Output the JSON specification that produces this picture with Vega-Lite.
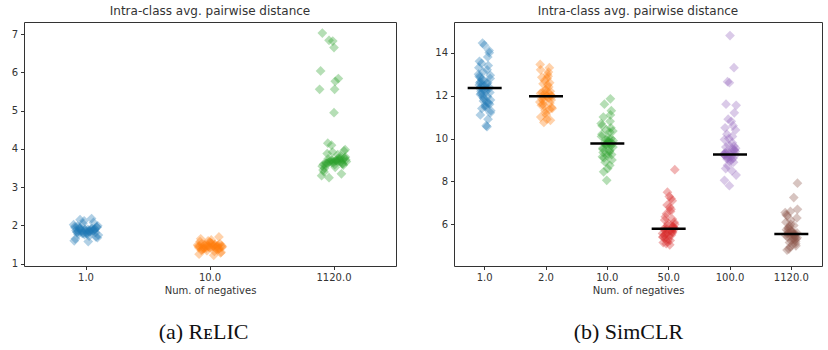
{
"$schema": "https://vega.github.io/schema/vega-lite/v6.json",
"padding": {"left": 10, "top": 4, "right": 2, "bottom": 0},
"background": "white",
"datasets": {
"relic": [
{"n":"1.0","d":1.87,"j":-0.08},{"n":"1.0","d":1.92,"j":0.05},{"n":"1.0","d":1.80,"j":-0.02},{"n":"1.0","d":1.95,"j":0.09},{"n":"1.0","d":1.85,"j":-0.06},
{"n":"1.0","d":1.78,"j":0.01},{"n":"1.0","d":1.90,"j":0.07},{"n":"1.0","d":2.02,"j":-0.1},{"n":"1.0","d":1.83,"j":0.03},{"n":"1.0","d":1.88,"j":-0.04},
{"n":"1.0","d":1.75,"j":0.1},{"n":"1.0","d":1.97,"j":-0.09},{"n":"1.0","d":1.86,"j":0.02},{"n":"1.0","d":1.93,"j":-0.05},{"n":"1.0","d":1.70,"j":0.08},
{"n":"1.0","d":1.89,"j":-0.01},{"n":"1.0","d":2.08,"j":0.06},{"n":"1.0","d":1.82,"j":-0.07},{"n":"1.0","d":1.91,"j":0.04},{"n":"1.0","d":1.79,"j":-0.03},
{"n":"1.0","d":1.84,"j":0.0},{"n":"1.0","d":1.99,"j":0.095},{"n":"1.0","d":1.65,"j":-0.085},{"n":"1.0","d":1.88,"j":0.035},{"n":"1.0","d":1.94,"j":-0.045},
{"n":"1.0","d":1.81,"j":0.075},{"n":"1.0","d":2.12,"j":-0.015},{"n":"1.0","d":1.86,"j":0.055},{"n":"1.0","d":1.77,"j":-0.065},{"n":"1.0","d":1.90,"j":0.015},
{"n":"1.0","d":1.60,"j":-0.095},{"n":"1.0","d":1.96,"j":0.085},{"n":"1.0","d":1.85,"j":-0.035},{"n":"1.0","d":2.18,"j":0.045},{"n":"1.0","d":1.83,"j":-0.075},
{"n":"1.0","d":1.72,"j":0.025},{"n":"1.0","d":1.92,"j":-0.055},{"n":"1.0","d":1.87,"j":0.065},{"n":"1.0","d":2.05,"j":-0.025},{"n":"1.0","d":1.79,"j":0.005},
{"n":"1.0","d":1.89,"j":-0.005},{"n":"1.0","d":1.68,"j":0.092},{"n":"1.0","d":1.94,"j":-0.088},{"n":"1.0","d":1.84,"j":0.038},{"n":"1.0","d":2.15,"j":-0.048},
{"n":"1.0","d":1.91,"j":0.072},{"n":"1.0","d":1.76,"j":-0.012},{"n":"1.0","d":1.86,"j":0.058},{"n":"1.0","d":1.98,"j":-0.068},{"n":"1.0","d":1.58,"j":0.018},
{"n":"10.0","d":1.45,"j":0.1},{"n":"10.0","d":1.42,"j":-0.09},{"n":"10.0","d":1.48,"j":0.02},{"n":"10.0","d":1.38,"j":-0.05},{"n":"10.0","d":1.52,"j":0.08},
{"n":"10.0","d":1.44,"j":-0.01},{"n":"10.0","d":1.47,"j":0.06},{"n":"10.0","d":1.35,"j":-0.07},{"n":"10.0","d":1.50,"j":0.04},{"n":"10.0","d":1.41,"j":-0.03},
{"n":"10.0","d":1.56,"j":0.0},{"n":"10.0","d":1.43,"j":0.095},{"n":"10.0","d":1.46,"j":-0.085},{"n":"10.0","d":1.32,"j":0.035},{"n":"10.0","d":1.49,"j":-0.045},
{"n":"10.0","d":1.40,"j":0.075},{"n":"10.0","d":1.60,"j":-0.015},{"n":"10.0","d":1.44,"j":0.055},{"n":"10.0","d":1.37,"j":-0.065},{"n":"10.0","d":1.53,"j":0.015},
{"n":"10.0","d":1.46,"j":-0.095},{"n":"10.0","d":1.28,"j":0.085},{"n":"10.0","d":1.51,"j":-0.035},{"n":"10.0","d":1.42,"j":0.045},{"n":"10.0","d":1.65,"j":-0.075},
{"n":"10.0","d":1.45,"j":0.025},{"n":"10.0","d":1.39,"j":-0.055},{"n":"10.0","d":1.48,"j":0.065},{"n":"10.0","d":1.34,"j":-0.025},{"n":"10.0","d":1.55,"j":0.005},
{"n":"10.0","d":1.43,"j":-0.005},{"n":"10.0","d":1.47,"j":0.092},{"n":"10.0","d":1.25,"j":-0.088},{"n":"10.0","d":1.50,"j":0.038},{"n":"10.0","d":1.41,"j":-0.048},
{"n":"10.0","d":1.70,"j":0.072},{"n":"10.0","d":1.46,"j":-0.012},{"n":"10.0","d":1.36,"j":0.058},{"n":"10.0","d":1.52,"j":-0.068},{"n":"10.0","d":1.44,"j":0.018},
{"n":"10.0","d":1.58,"j":-0.08},{"n":"10.0","d":1.40,"j":0.05},{"n":"10.0","d":1.48,"j":-0.02},{"n":"10.0","d":1.30,"j":0.09},{"n":"10.0","d":1.45,"j":-0.06},
{"n":"10.0","d":1.62,"j":0.01},{"n":"10.0","d":1.38,"j":0.07},{"n":"10.0","d":1.49,"j":-0.1},{"n":"10.0","d":1.22,"j":0.03},{"n":"10.0","d":1.47,"j":-0.04},
{"n":"1120.0","d":3.68,"j":0.0},{"n":"1120.0","d":3.72,"j":0.095},{"n":"1120.0","d":3.60,"j":-0.085},{"n":"1120.0","d":3.75,"j":0.035},{"n":"1120.0","d":3.65,"j":-0.045},
{"n":"1120.0","d":3.58,"j":0.075},{"n":"1120.0","d":3.70,"j":-0.015},{"n":"1120.0","d":3.82,"j":0.055},{"n":"1120.0","d":3.63,"j":-0.065},{"n":"1120.0","d":3.69,"j":0.015},
{"n":"1120.0","d":3.55,"j":-0.095},{"n":"1120.0","d":3.77,"j":0.085},{"n":"1120.0","d":3.66,"j":-0.035},{"n":"1120.0","d":3.73,"j":0.045},{"n":"1120.0","d":3.50,"j":-0.075},
{"n":"1120.0","d":3.69,"j":0.025},{"n":"1120.0","d":3.88,"j":-0.055},{"n":"1120.0","d":3.62,"j":0.065},{"n":"1120.0","d":3.71,"j":-0.025},{"n":"1120.0","d":3.59,"j":0.005},
{"n":"1120.0","d":3.64,"j":-0.005},{"n":"1120.0","d":3.79,"j":0.092},{"n":"1120.0","d":3.45,"j":-0.088},{"n":"1120.0","d":3.68,"j":0.038},{"n":"1120.0","d":3.74,"j":-0.048},
{"n":"1120.0","d":3.61,"j":0.072},{"n":"1120.0","d":3.92,"j":-0.012},{"n":"1120.0","d":3.66,"j":0.058},{"n":"1120.0","d":3.57,"j":-0.068},{"n":"1120.0","d":3.70,"j":0.018},
{"n":"1120.0","d":3.40,"j":-0.08},{"n":"1120.0","d":3.76,"j":0.05},{"n":"1120.0","d":3.65,"j":-0.02},{"n":"1120.0","d":3.98,"j":0.09},{"n":"1120.0","d":3.63,"j":-0.06},
{"n":"1120.0","d":3.52,"j":0.01},{"n":"1120.0","d":3.72,"j":0.07},{"n":"1120.0","d":3.30,"j":-0.1},{"n":"1120.0","d":3.85,"j":0.03},{"n":"1120.0","d":3.25,"j":-0.04},
{"n":"1120.0","d":3.67,"j":0.1},{"n":"1120.0","d":4.10,"j":-0.02},{"n":"1120.0","d":4.15,"j":-0.05},{"n":"1120.0","d":3.95,"j":0.08},{"n":"1120.0","d":3.35,"j":0.06},
{"n":"1120.0","d":7.03,"j":-0.094},{"n":"1120.0","d":6.84,"j":-0.04},{"n":"1120.0","d":6.82,"j":-0.01},{"n":"1120.0","d":6.65,"j":0.0},{"n":"1120.0","d":6.04,"j":-0.108},
{"n":"1120.0","d":5.84,"j":0.035},{"n":"1120.0","d":5.77,"j":0.01},{"n":"1120.0","d":5.56,"j":-0.116},{"n":"1120.0","d":5.56,"j":0.005},{"n":"1120.0","d":4.95,"j":0.0}
],
"simclr": [
{"n":"1.0","d":12.35,"j":-0.08},{"n":"1.0","d":12.6,"j":0.05},{"n":"1.0","d":11.9,"j":-0.02},{"n":"1.0","d":12.8,"j":0.09},{"n":"1.0","d":12.1,"j":-0.06},
{"n":"1.0","d":11.5,"j":0.01},{"n":"1.0","d":12.4,"j":0.07},{"n":"1.0","d":13.0,"j":-0.1},{"n":"1.0","d":11.7,"j":0.03},{"n":"1.0","d":12.5,"j":-0.04},
{"n":"1.0","d":11.3,"j":0.1},{"n":"1.0","d":12.9,"j":-0.09},{"n":"1.0","d":12.2,"j":0.02},{"n":"1.0","d":13.5,"j":-0.05},{"n":"1.0","d":11.6,"j":0.08},
{"n":"1.0","d":12.7,"j":-0.01},{"n":"1.0","d":12.3,"j":0.06},{"n":"1.0","d":11.1,"j":-0.07},{"n":"1.0","d":13.2,"j":0.04},{"n":"1.0","d":12.0,"j":-0.03},
{"n":"1.0","d":12.45,"j":0.0},{"n":"1.0","d":11.8,"j":0.095},{"n":"1.0","d":13.6,"j":-0.085},{"n":"1.0","d":12.55,"j":0.035},{"n":"1.0","d":11.4,"j":-0.045},
{"n":"1.0","d":14.0,"j":0.075},{"n":"1.0","d":12.25,"j":-0.015},{"n":"1.0","d":10.9,"j":0.055},{"n":"1.0","d":12.65,"j":-0.065},{"n":"1.0","d":11.55,"j":0.015},
{"n":"1.0","d":13.3,"j":-0.095},{"n":"1.0","d":12.15,"j":0.085},{"n":"1.0","d":14.45,"j":-0.035},{"n":"1.0","d":11.95,"j":0.045},{"n":"1.0","d":12.85,"j":-0.075},
{"n":"1.0","d":10.6,"j":0.025},{"n":"1.0","d":12.4,"j":-0.055},{"n":"1.0","d":11.65,"j":0.065},{"n":"1.0","d":13.1,"j":-0.025},{"n":"1.0","d":12.3,"j":0.005},
{"n":"1.0","d":14.35,"j":-0.005},{"n":"1.0","d":11.2,"j":0.092},{"n":"1.0","d":12.5,"j":-0.088},{"n":"1.0","d":10.55,"j":0.038},{"n":"1.0","d":12.75,"j":-0.048},
{"n":"1.0","d":14.1,"j":0.072},{"n":"1.0","d":11.85,"j":-0.012},{"n":"1.0","d":13.4,"j":0.058},{"n":"1.0","d":12.05,"j":-0.068},{"n":"1.0","d":11.45,"j":0.018},
{"n":"1.0","d":12.6,"j":-0.08},{"n":"1.0","d":13.8,"j":0.05},{"n":"1.0","d":11.75,"j":-0.02},{"n":"1.0","d":12.95,"j":0.09},{"n":"1.0","d":12.2,"j":-0.06},
{"n":"2.0","d":11.97,"j":0.01},{"n":"2.0","d":12.2,"j":0.07},{"n":"2.0","d":11.7,"j":-0.1},{"n":"2.0","d":12.5,"j":0.03},{"n":"2.0","d":11.9,"j":-0.04},
{"n":"2.0","d":11.4,"j":0.1},{"n":"2.0","d":12.1,"j":-0.09},{"n":"2.0","d":12.8,"j":0.02},{"n":"2.0","d":11.6,"j":-0.05},{"n":"2.0","d":12.0,"j":0.08},
{"n":"2.0","d":11.2,"j":-0.01},{"n":"2.0","d":12.6,"j":0.06},{"n":"2.0","d":11.85,"j":-0.07},{"n":"2.0","d":13.1,"j":0.04},{"n":"2.0","d":11.5,"j":-0.03},
{"n":"2.0","d":12.3,"j":0.0},{"n":"2.0","d":11.95,"j":0.095},{"n":"2.0","d":11.0,"j":-0.085},{"n":"2.0","d":12.9,"j":0.035},{"n":"2.0","d":11.75,"j":-0.045},
{"n":"2.0","d":12.05,"j":0.075},{"n":"2.0","d":11.3,"j":-0.015},{"n":"2.0","d":13.3,"j":0.055},{"n":"2.0","d":12.15,"j":-0.065},{"n":"2.0","d":10.9,"j":0.015},
{"n":"2.0","d":13.45,"j":-0.095},{"n":"2.0","d":11.8,"j":0.085},{"n":"2.0","d":10.75,"j":-0.035},{"n":"2.0","d":12.4,"j":0.045},{"n":"2.0","d":11.55,"j":-0.075},
{"n":"2.0","d":13.0,"j":0.025},{"n":"2.0","d":12.0,"j":-0.055},{"n":"2.0","d":11.65,"j":0.065},{"n":"2.0","d":12.7,"j":-0.025},{"n":"2.0","d":11.1,"j":0.005},
{"n":"2.0","d":12.25,"j":-0.005},{"n":"2.0","d":11.45,"j":0.092},{"n":"2.0","d":13.2,"j":-0.088},{"n":"2.0","d":11.9,"j":0.038},{"n":"2.0","d":12.55,"j":-0.048},
{"n":"2.0","d":10.85,"j":0.072},{"n":"2.0","d":12.1,"j":-0.012},{"n":"2.0","d":11.35,"j":0.058},{"n":"2.0","d":12.85,"j":-0.068},{"n":"2.0","d":11.98,"j":0.018},
{"n":"10.0","d":9.77,"j":-0.01},{"n":"10.0","d":10.0,"j":0.06},{"n":"10.0","d":9.5,"j":-0.07},{"n":"10.0","d":10.3,"j":0.04},{"n":"10.0","d":9.7,"j":-0.03},
{"n":"10.0","d":9.2,"j":0.0},{"n":"10.0","d":9.9,"j":0.095},{"n":"10.0","d":10.6,"j":-0.085},{"n":"10.0","d":9.4,"j":0.035},{"n":"10.0","d":9.8,"j":-0.045},
{"n":"10.0","d":9.0,"j":0.075},{"n":"10.0","d":10.4,"j":-0.015},{"n":"10.0","d":9.65,"j":0.055},{"n":"10.0","d":11.0,"j":-0.065},{"n":"10.0","d":9.3,"j":0.015},
{"n":"10.0","d":10.1,"j":-0.095},{"n":"10.0","d":9.75,"j":0.085},{"n":"10.0","d":8.9,"j":-0.035},{"n":"10.0","d":10.8,"j":0.045},{"n":"10.0","d":9.55,"j":-0.075},
{"n":"10.0","d":9.85,"j":0.025},{"n":"10.0","d":9.1,"j":-0.055},{"n":"10.0","d":11.3,"j":0.065},{"n":"10.0","d":9.95,"j":-0.025},{"n":"10.0","d":8.6,"j":0.005},
{"n":"10.0","d":11.85,"j":0.05},{"n":"10.0","d":9.6,"j":0.092},{"n":"10.0","d":8.05,"j":-0.01},{"n":"10.0","d":10.2,"j":-0.088},{"n":"10.0","d":9.45,"j":0.038},
{"n":"10.0","d":11.6,"j":-0.048},{"n":"10.0","d":9.8,"j":0.072},{"n":"10.0","d":8.45,"j":-0.06},{"n":"10.0","d":10.5,"j":0.058},{"n":"10.0","d":9.35,"j":-0.068},
{"n":"10.0","d":10.05,"j":0.018},{"n":"10.0","d":9.15,"j":-0.08},{"n":"10.0","d":11.1,"j":0.05},{"n":"10.0","d":9.7,"j":-0.02},{"n":"10.0","d":10.35,"j":0.09},
{"n":"10.0","d":8.75,"j":0.04},{"n":"10.0","d":9.9,"j":0.01},{"n":"10.0","d":9.25,"j":0.07},{"n":"10.0","d":10.7,"j":-0.1},{"n":"10.0","d":9.78,"j":0.03},
{"n":"50.0","d":5.8,"j":0.075},{"n":"50.0","d":5.95,"j":-0.015},{"n":"50.0","d":5.6,"j":0.055},{"n":"50.0","d":6.2,"j":-0.065},{"n":"50.0","d":5.7,"j":0.015},
{"n":"50.0","d":5.4,"j":-0.095},{"n":"50.0","d":5.85,"j":0.085},{"n":"50.0","d":6.5,"j":-0.035},{"n":"50.0","d":5.5,"j":0.045},{"n":"50.0","d":5.75,"j":-0.075},
{"n":"50.0","d":5.25,"j":0.025},{"n":"50.0","d":6.35,"j":-0.055},{"n":"50.0","d":5.65,"j":0.065},{"n":"50.0","d":6.9,"j":-0.025},{"n":"50.0","d":5.45,"j":0.005},
{"n":"50.0","d":6.05,"j":-0.005},{"n":"50.0","d":5.78,"j":0.092},{"n":"50.0","d":5.15,"j":-0.088},{"n":"50.0","d":6.7,"j":0.038},{"n":"50.0","d":5.55,"j":-0.048},
{"n":"50.0","d":5.9,"j":0.072},{"n":"50.0","d":5.3,"j":-0.012},{"n":"50.0","d":7.1,"j":0.058},{"n":"50.0","d":5.82,"j":-0.068},{"n":"50.0","d":5.05,"j":0.018},
{"n":"50.0","d":7.5,"j":-0.02},{"n":"50.0","d":5.68,"j":0.05},{"n":"50.0","d":5.2,"j":-0.02},{"n":"50.0","d":6.1,"j":0.09},{"n":"50.0","d":5.35,"j":-0.06},
{"n":"50.0","d":7.3,"j":0.01},{"n":"50.0","d":5.88,"j":0.07},{"n":"50.0","d":5.58,"j":-0.1},{"n":"50.0","d":6.6,"j":0.03},{"n":"50.0","d":5.1,"j":-0.04},
{"n":"50.0","d":6.0,"j":0.1},{"n":"50.0","d":5.42,"j":-0.09},{"n":"50.0","d":6.8,"j":0.02},{"n":"50.0","d":5.72,"j":-0.05},{"n":"50.0","d":8.55,"j":0.1},
{"n":"50.0","d":5.62,"j":-0.01},{"n":"50.0","d":6.25,"j":0.06},{"n":"50.0","d":5.5,"j":-0.07},{"n":"50.0","d":7.2,"j":0.04},{"n":"50.0","d":5.79,"j":-0.03},
{"n":"100.0","d":9.26,"j":-0.095},{"n":"100.0","d":9.4,"j":0.085},{"n":"100.0","d":9.1,"j":-0.035},{"n":"100.0","d":9.5,"j":0.045},{"n":"100.0","d":9.2,"j":-0.075},
{"n":"100.0","d":9.0,"j":0.025},{"n":"100.0","d":9.3,"j":-0.055},{"n":"100.0","d":9.65,"j":0.065},{"n":"100.0","d":9.15,"j":-0.025},{"n":"100.0","d":9.35,"j":0.005},
{"n":"100.0","d":8.95,"j":-0.005},{"n":"100.0","d":9.55,"j":0.092},{"n":"100.0","d":9.22,"j":-0.088},{"n":"100.0","d":9.8,"j":0.038},{"n":"100.0","d":9.05,"j":-0.048},
{"n":"100.0","d":9.45,"j":0.072},{"n":"100.0","d":9.28,"j":-0.012},{"n":"100.0","d":8.9,"j":0.058},{"n":"100.0","d":9.6,"j":-0.068},{"n":"100.0","d":9.18,"j":0.018},
{"n":"100.0","d":9.32,"j":-0.08},{"n":"100.0","d":9.08,"j":0.05},{"n":"100.0","d":9.7,"j":-0.02},{"n":"100.0","d":9.24,"j":0.09},{"n":"100.0","d":9.38,"j":-0.06},
{"n":"100.0","d":9.12,"j":0.01},{"n":"100.0","d":9.48,"j":0.07},{"n":"100.0","d":9.27,"j":-0.1},
{"n":"100.0","d":14.8,"j":0.0},{"n":"100.0","d":13.3,"j":0.065},{"n":"100.0","d":12.65,"j":-0.04},{"n":"100.0","d":12.6,"j":-0.01},{"n":"100.0","d":11.6,"j":-0.065},
{"n":"100.0","d":11.55,"j":0.1},{"n":"100.0","d":11.2,"j":0.07},{"n":"100.0","d":10.9,"j":-0.03},{"n":"100.0","d":10.6,"j":0.05},{"n":"100.0","d":10.5,"j":-0.08},
{"n":"100.0","d":10.8,"j":0.02},{"n":"100.0","d":10.2,"j":-0.05},{"n":"100.0","d":10.4,"j":0.09},{"n":"100.0","d":10.0,"j":-0.02},{"n":"100.0","d":10.1,"j":0.04},
{"n":"100.0","d":9.95,"j":-0.09},{"n":"100.0","d":8.6,"j":-0.07},{"n":"100.0","d":8.3,"j":0.1},{"n":"100.0","d":8.05,"j":-0.09},{"n":"100.0","d":7.8,"j":-0.01},
{"n":"100.0","d":8.5,"j":0.03},{"n":"100.0","d":8.75,"j":-0.04},
{"n":"1120.0","d":5.55,"j":0.025},{"n":"1120.0","d":5.7,"j":-0.055},{"n":"1120.0","d":5.4,"j":0.065},{"n":"1120.0","d":5.9,"j":-0.025},{"n":"1120.0","d":5.5,"j":0.005},
{"n":"1120.0","d":5.25,"j":-0.005},{"n":"1120.0","d":5.6,"j":0.092},{"n":"1120.0","d":6.1,"j":-0.088},{"n":"1120.0","d":5.35,"j":0.038},{"n":"1120.0","d":5.58,"j":-0.048},
{"n":"1120.0","d":5.1,"j":0.072},{"n":"1120.0","d":6.0,"j":-0.012},{"n":"1120.0","d":5.45,"j":0.058},{"n":"1120.0","d":6.4,"j":-0.068},{"n":"1120.0","d":5.3,"j":0.018},
{"n":"1120.0","d":5.75,"j":-0.08},{"n":"1120.0","d":5.52,"j":0.05},{"n":"1120.0","d":4.95,"j":-0.02},{"n":"1120.0","d":6.3,"j":0.09},{"n":"1120.0","d":5.42,"j":-0.06},
{"n":"1120.0","d":5.65,"j":0.01},{"n":"1120.0","d":5.2,"j":0.07},{"n":"1120.0","d":6.55,"j":-0.1},{"n":"1120.0","d":5.62,"j":0.03},{"n":"1120.0","d":4.85,"j":-0.04},
{"n":"1120.0","d":6.7,"j":0.1},{"n":"1120.0","d":5.48,"j":-0.09},{"n":"1120.0","d":5.05,"j":0.02},{"n":"1120.0","d":5.85,"j":-0.05},{"n":"1120.0","d":5.32,"j":0.08},
{"n":"1120.0","d":6.2,"j":-0.01},{"n":"1120.0","d":5.57,"j":0.06},{"n":"1120.0","d":4.8,"j":-0.07},{"n":"1120.0","d":5.95,"j":0.04},{"n":"1120.0","d":5.15,"j":-0.03},
{"n":"1120.0","d":5.68,"j":0.0},{"n":"1120.0","d":5.38,"j":0.095},{"n":"1120.0","d":6.45,"j":-0.085},{"n":"1120.0","d":5.53,"j":0.035},{"n":"1120.0","d":7.25,"j":0.04},
{"n":"1120.0","d":5.8,"j":-0.045},{"n":"1120.0","d":5.0,"j":0.075},{"n":"1120.0","d":6.6,"j":-0.015},{"n":"1120.0","d":5.28,"j":0.055},{"n":"1120.0","d":7.92,"j":0.1},
{"n":"1120.0","d":5.56,"j":-0.065}
],
"medians": [
{"n":"1.0","m":12.35},{"n":"2.0","m":11.97},{"n":"10.0","m":9.77},{"n":"50.0","m":5.8},{"n":"100.0","m":9.26},{"n":"1120.0","m":5.55}
]
},
"spacing": 37,
"resolve": {"scale": {"color": "independent", "xOffset": "independent", "x": "independent", "y": "independent"}},
"hconcat": [
{
"title": {"text": "(a) RᴇLIC", "orient": "bottom", "anchor": "middle", "font": "Liberation Serif", "fontSize": 22, "color": "#111", "offset": 26},
"vconcat": [
{
"width": 372,
"height": 244,
"title": "Intra-class avg. pairwise distance",
"data": {"name": "relic"},
"mark": {"type": "point", "shape": "diamond", "filled": true, "size": 95, "opacity": 0.35},
"encoding": {
"x": {"field": "n", "type": "nominal", "sort": ["1.0","10.0","1120.0"], "scale": {"type": "band", "paddingInner": 0, "paddingOuter": 0}, "axis": {"title": "Num. of negatives", "labelAngle": 0}},
"xOffset": {"field": "j", "type": "quantitative", "scale": {"domain": [-0.5, 0.5], "range": [0, 124]}},
"y": {"field": "d", "type": "quantitative", "scale": {"domain": [0.94, 7.32], "nice": false, "zero": false}, "axis": {"title": null, "values": [1,2,3,4,5,6,7]}},
"color": {"field": "n", "type": "nominal", "scale": {"domain": ["1.0","10.0","1120.0"], "range": ["#1f77b4","#ff7f0e","#2ca02c"]}, "legend": null}
}
}
]
},
{
"title": {"text": "(b) SimCLR", "orient": "bottom", "anchor": "middle", "font": "Liberation Serif", "fontSize": 22, "color": "#111", "offset": 26},
"vconcat": [
{
"width": 368,
"height": 244,
"title": "Intra-class avg. pairwise distance",
"layer": [
{
"data": {"name": "simclr"},
"mark": {"type": "point", "shape": "diamond", "filled": true, "size": 95, "opacity": 0.35},
"encoding": {
"x": {"field": "n", "type": "nominal", "sort": ["1.0","2.0","10.0","50.0","100.0","1120.0"], "scale": {"type": "band", "paddingInner": 0, "paddingOuter": 0}, "axis": {"title": "Num. of negatives", "labelAngle": 0}},
"xOffset": {"field": "j", "type": "quantitative", "scale": {"domain": [-0.5, 0.5], "range": [0, 61.33]}},
"y": {"field": "d", "type": "quantitative", "scale": {"domain": [4.06, 15.43], "nice": false, "zero": false}, "axis": {"title": null, "values": [6,8,10,12,14]}},
"color": {"field": "n", "type": "nominal", "scale": {"domain": ["1.0","2.0","10.0","50.0","100.0","1120.0"], "range": ["#1f77b4","#ff7f0e","#2ca02c","#d62728","#9467bd","#8c564b"]}, "legend": null}
}
},
{
"data": {"name": "medians"},
"mark": {"type": "tick", "color": "black", "size": 34, "thickness": 2.5, "opacity": 1},
"encoding": {
"x": {"field": "n", "type": "nominal", "sort": ["1.0","2.0","10.0","50.0","100.0","1120.0"]},
"y": {"field": "m", "type": "quantitative"}
}
}
]
}
]
}
],
"config": {
"font": "DejaVu Sans",
"view": {"stroke": "#333", "strokeWidth": 1},
"axis": {"domain": false, "grid": false, "ticks": true, "tickSize": 3.5, "tickColor": "#333", "labelFont": "DejaVu Sans", "labelFontSize": 10, "labelColor": "#333", "labelPadding": 3, "titleFont": "DejaVu Sans", "titleFontSize": 10, "titleFontWeight": "normal", "titleColor": "#333", "titlePadding": 3},
"title": {"font": "DejaVu Sans", "fontSize": 12, "fontWeight": "normal", "color": "#333", "offset": 4}
}
}
